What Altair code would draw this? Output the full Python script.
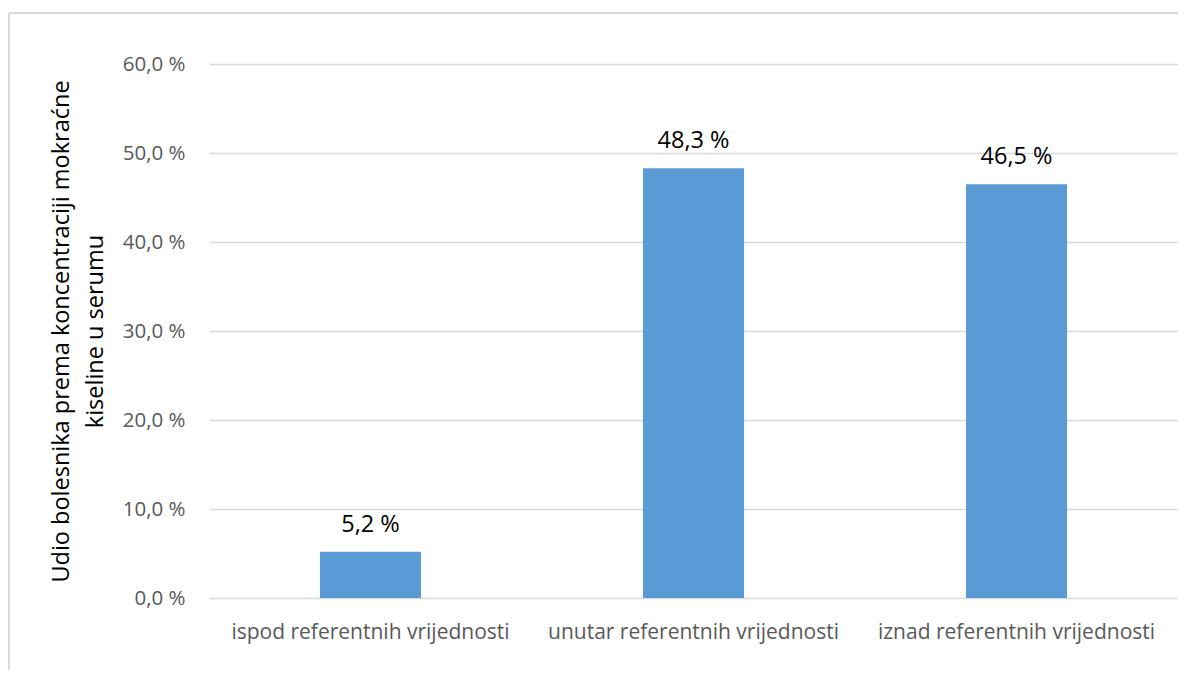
import altair as alt
import pandas as pd

categories = ["ispod referentnih vrijednosti", "unutar referentnih vrijednosti", "iznad referentnih vrijednosti"]
values = [5.2, 48.3, 46.5]
value_labels = ["5,2 %", "48,3 %", "46,5 %"]
y_title = ["Udio bolesnika  prema koncentraciji mokraćne", "kiseline u serumu"]

df = pd.DataFrame({"cat": categories, "val": values, "lbl": value_labels})

FONT = "Open Sans"

x_enc = alt.X("cat:N", sort=categories, title=None,
              scale=alt.Scale(paddingInner=0.687, paddingOuter=0.3435),
              axis=alt.Axis(labelAngle=0, ticks=False, domain=False, labelPadding=23, labelLimit=0,
                            labelFontSize=21, labelColor="#595959", labelFont=FONT))
y_enc = alt.Y("val:Q", scale=alt.Scale(domain=[0, 60]),
              axis=alt.Axis(values=[0, 10, 20, 30, 40, 50, 60], ticks=False, domain=False,
                            labelExpr="replace(format(datum.value, '.1f'), '.', ',') + ' %'",
                            labelFontSize=20.5, labelColor="#595959", labelFont=FONT, labelPadding=24,
                            gridColor="#D9D9D9", gridWidth=1.3,
                            title=y_title, titleFontSize=23.5, titleFont=FONT, titleFontWeight="normal",
                            titleColor="#000000", titleLineHeight=34, titlePadding=15))

bars = alt.Chart(df).mark_bar(color="#5B9BD5").encode(x=x_enc, y=y_enc)
texts = alt.Chart(df).mark_text(baseline="bottom", dy=-15, fontSize=23.5, font=FONT, color="#000000").encode(
    x=alt.X("cat:N", sort=categories), y="val:Q", text="lbl:N")

frame_left = alt.Chart(df).mark_rule(color="#D9D9D9", strokeWidth=1.5, clip=False).encode(
    x=alt.value(-200), y=alt.value(-51), y2=alt.value(620))
frame_top = alt.Chart(df).mark_rule(color="#D9D9D9", strokeWidth=1.5, clip=False).encode(
    x=alt.value(-200), x2=alt.value(980), y=alt.value(-51))

chart = alt.layer(frame_left, frame_top, bars, texts).properties(
    width=969, height=534,
    autosize=alt.AutoSizeParams(type="none"),
    padding={"left": 201, "top": 56, "right": 0, "bottom": 72},
    background="white",
).configure_view(stroke=None)

chart.save("out.html", embed_options={"renderer": "svg", "actions": False})
